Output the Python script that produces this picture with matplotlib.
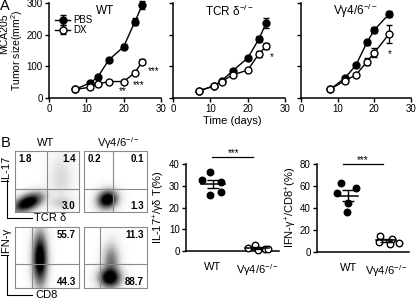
import numpy as np
import matplotlib
matplotlib.use("Agg")
import matplotlib.pyplot as plt
from matplotlib.lines import Line2D

plt.rcParams['font.family'] = ['Liberation Sans', 'DejaVu Sans']
plt.rcParams['mathtext.fontset'] = 'custom'
plt.rcParams['mathtext.rm'] = 'Liberation Sans'
plt.rcParams['mathtext.it'] = 'Liberation Sans:italic'
plt.rcParams['axes.linewidth'] = 1.1

# --- panel A: tumour growth curves ---
days_a = [7, 11, 13, 16, 20, 23, 25]
wt_pbs = [27, 48, 65, 120, 162, 241, 294]
wt_pbs_err = [3, 4, 5, 6, 7, 12, 12]
wt_dx = [27, 34, 44, 52, 52, 80, 115]
wt_dx_err = [3, 3, 3, 4, 4, 6, 7]

tcr_pbs = [23, 38, 54, 86, 126, 186, 238]
tcr_pbs_err = [3, 4, 5, 6, 7, 10, 16]
tcr_dx = [23, 38, 52, 73, 88, 139, 164]
tcr_dx_err = [3, 3, 4, 5, 6, 8, 9]

days_v = [8, 12, 15, 18, 20, 24]
vg_pbs = [28, 63, 104, 176, 215, 265]
vg_pbs_err = [3, 5, 6, 8, 9, 10]
vg_dx = [28, 55, 73, 115, 143, 202]
vg_dx_err = [3, 5, 7, 12, 14, 28]

# --- panel B: flow quadrant percentages ---
il17_quads = [["1.8", "1.4", "3.0"], ["0.2", "0.1", "1.3"]]
ifng_quads = [["55.7", "44.3"], ["11.3", "88.7"]]

# --- panel B: summary dot plots ---
groups = ["WT", "V\u03b34/6$^{-/-}$"]
il17_wt = [32.6, 36.2, 31.6, 25.7, 27.3]
il17_wt_off = [-0.23, -0.05, 0.18, -0.05, 0.18]
il17_ko = [2.8, 1.5, 0.8, 0.5, 1.0]
il17_ko_off = [-0.05, -0.2, 0.18, 0.02, 0.25]
ifng_wt = [63, 58, 54, 45, 36]
ifng_wt_off = [-0.2, 0.2, -0.3, 0.0, -0.03]
ifng_ko = [15, 12, 8.5, 9.5, 7.5]
ifng_ko_off = [-0.15, 0.15, 0.35, -0.2, 0.1]

W, H = 416, 302
fig = plt.figure(figsize=(W / 100, H / 100), dpi=100)


def box(x0, y0, x1, y1):
    return [x0 / W, 1 - y1 / H, (x1 - x0) / W, (y1 - y0) / H]


def ftext(x, y, s, **kw):
    kw.setdefault('ha', 'center')
    kw.setdefault('va', 'center')
    fig.text(x / W, 1 - y / H, s, **kw)


def growth(ax, days, pbs, pbs_e, dx, dx_e, title):
    ax.errorbar(days, pbs, yerr=pbs_e, color='black', marker='o', ms=5,
                lw=1, capsize=2.5, elinewidth=0.9, clip_on=False, zorder=3)
    ax.errorbar(days, dx, yerr=dx_e, color='black', marker='o', ms=5,
                mfc='white', mew=1, lw=1, capsize=2.5, elinewidth=0.9,
                clip_on=False, zorder=4)
    ax.set_xlim(0, 30)
    ax.set_ylim(0, 300)
    ax.set_xticks([0, 10, 20, 30])
    ax.set_yticks([0, 100, 200, 300])
    ax.spines[['top', 'right']].set_visible(False)
    ax.tick_params(labelsize=7, length=3, width=1, pad=1.5)
    ax.text(0.5, 0.915, title, transform=ax.transAxes, ha='center',
            va='center', fontsize=8.5)


ax1 = fig.add_axes(box(49, 3, 161, 98))
growth(ax1, days_a, wt_pbs, wt_pbs_err, wt_dx, wt_dx_err, "WT")
ax1.legend(["PBS", "DX"], loc='upper left', bbox_to_anchor=(0.0, 0.93),
           frameon=False, fontsize=7, handlelength=1.6, handletextpad=0.3,
           labelspacing=-0.05, borderaxespad=0.2)
ax1.text(19.8, 22, "**", ha='center', va='center', fontsize=7)
ax1.text(24.1, 41, "***", ha='center', va='center', fontsize=7)
ax1.text(27.9, 85, "***", ha='center', va='center', fontsize=7)

ax2 = fig.add_axes(box(173, 3, 285, 98))
growth(ax2, days_a, tcr_pbs, tcr_pbs_err, tcr_dx, tcr_dx_err,
       "TCR \u03b4$^{-/-}$")
ax2.set_yticklabels([])
ax2.text(26.5, 128, "*", ha='center', va='center', fontsize=7)

ax3 = fig.add_axes(box(301, 3, 411, 98))
growth(ax3, days_v, vg_pbs, vg_pbs_err, vg_dx, vg_dx_err,
       "V\u03b34/6$^{-/-}$")
ax3.set_yticklabels([])
ax3.text(24.2, 140, "*", ha='center', va='center', fontsize=7)

ftext(0, 6, "A", fontsize=10.5, ha='left')
ftext(4.5, 34, "MCA205", fontsize=7.5, rotation=90)
ftext(17, 50, "Tumor size(mm$^{2}$)", fontsize=7.5, rotation=90)
ftext(232, 121, "Time (days)", fontsize=8)

# --- flow panels (density drawn from cluster centre/spread estimates) ---
# (cx, cy, sx, sy, angle, weight)
clusters = {
    'tl': [(0.2, 0.15, 0.13, 0.065, 25, 1.0), (0.72, 0.55, 0.1, 0.2, 0, 0.03),
           (0.72, 0.15, 0.1, 0.06, 0, 0.05)],
    'tr': [(0.37, 0.2, 0.085, 0.075, 30, 1.0)],
    'bl': [(0.39, 0.48, 0.06, 0.22, 0, 1.0)],
    'br': [(0.41, 0.17, 0.09, 0.085, 0, 1.0), (0.43, 0.42, 0.07, 0.16, 0, 0.25)],
}


def flow(ax, comps, vx, hy, texts):
    g = np.linspace(0, 1, 200)
    X, Y = np.meshgrid(g, g)
    Z = np.zeros_like(X)
    for cx, cy, sx, sy, ang, w in comps:
        a = np.deg2rad(ang)
        u = (X - cx) * np.cos(a) + (Y - cy) * np.sin(a)
        v = -(X - cx) * np.sin(a) + (Y - cy) * np.cos(a)
        Z += w * np.exp(-0.5 * ((u / sx) ** 2 + (v / sy) ** 2))
    ax.imshow(Z ** 0.45, extent=[0, 1, 0, 1], origin='lower', cmap='Greys',
              vmin=0, vmax=0.85, interpolation='bilinear', aspect='auto')
    ax.axvline(vx, color='#8a8a8a', lw=0.8)
    ax.axhline(hy, color='#8a8a8a', lw=0.8)
    for s in ax.spines.values():
        s.set_color('#8a8a8a')
        s.set_linewidth(0.8)
    ax.set_xticks([])
    ax.set_yticks([])
    for (tx, ty, s, ha) in texts:
        ax.text(tx, ty, s, transform=ax.transAxes, ha=ha, va='center',
                fontsize=7, fontweight='bold')


flow(fig.add_axes(box(15, 151, 79, 212)), clusters['tl'], 0.5, 0.38,
     [(0.05, 0.87, il17_quads[0][0], 'left'), (0.95, 0.87, il17_quads[0][1], 'right'),
      (0.95, 0.1, il17_quads[0][2], 'right')])
flow(fig.add_axes(box(84, 151, 147, 212)), clusters['tr'], 0.46, 0.38,
     [(0.05, 0.87, il17_quads[1][0], 'left'), (0.95, 0.87, il17_quads[1][1], 'right'),
      (0.95, 0.1, il17_quads[1][2], 'right')])
flow(fig.add_axes(box(15, 227, 79, 288)), clusters['bl'], 0.27, 0.4,
     [(0.95, 0.87, ifng_quads[0][0], 'right'), (0.95, 0.1, ifng_quads[0][1], 'right')])
flow(fig.add_axes(box(84, 227, 147, 288)), clusters['br'], 0.25, 0.4,
     [(0.95, 0.87, ifng_quads[1][0], 'right'), (0.95, 0.1, ifng_quads[1][1], 'right')])

ftext(1, 143, "B", fontsize=10.5, ha='left')
ftext(46, 143, "WT", fontsize=8)
ftext(118, 143, "V\u03b34/6$^{-/-}$", fontsize=8)

ftext(6, 168, "IL-17", fontsize=8, rotation=90)
fig.add_artist(Line2D([7 / W, 7 / W, 32 / W], [1 - 180 / H, 1 - 218 / H, 1 - 218 / H],
                      color='black', lw=0.8))
ftext(34, 218, "TCR \u03b4", fontsize=8, ha='left')
ftext(6, 241, "IFN-\u03b3", fontsize=8, rotation=90)
fig.add_artist(Line2D([7 / W, 7 / W, 32 / W], [1 - 256 / H, 1 - 295 / H, 1 - 295 / H],
                      color='black', lw=0.8))
ftext(35, 295, "CD8", fontsize=8, ha='left')


# --- summary dot plots ---
def dots(ax, wt, wt_off, ko, ko_off, ymax, step):
    ax.scatter(np.array(wt_off), wt, s=22, color='black', zorder=3, clip_on=False)
    ax.scatter(1 + np.array(ko_off), ko, s=22, facecolor='white',
               edgecolor='black', lw=1, zorder=3, clip_on=False)
    for pos, vals in [(0, wt), (1, ko)]:
        m = np.mean(vals)
        se = np.std(vals, ddof=1) / np.sqrt(len(vals))
        ax.plot([pos - 0.27, pos + 0.27], [m, m], color='black', lw=1.1, zorder=4)
        ax.errorbar(pos, m, yerr=se, color='black', capsize=4, lw=1,
                    capthick=1, zorder=4)
    ax.set_ylim(0, ymax)
    ax.set_yticks(np.arange(0, ymax + 1, step))
    ax.set_xticks([0, 1])
    ax.set_xticklabels(groups)
    ax.spines[['top', 'right']].set_visible(False)
    ax.tick_params(axis='y', labelsize=7, length=3, width=1, pad=1.5)
    ax.tick_params(axis='x', labelsize=8, length=0, pad=8)


axs1 = fig.add_axes(box(186, 164, 279, 251))
dots(axs1, il17_wt, il17_wt_off, il17_ko, il17_ko_off, 40, 10)
axs1.set_xlim(-0.6, 1.5)
ftext(159, 207, "IL-17$^{+}$/\u03b3\u03b4 T(%)", fontsize=8, rotation=90)
fig.add_artist(Line2D([212 / W, 253 / W], [1 - 157 / H] * 2, color='black', lw=0.9))
ftext(234, 153, "***", fontsize=7)

axs2 = fig.add_axes(box(317, 164, 409, 252))
dots(axs2, ifng_wt, ifng_wt_off, ifng_ko, ifng_ko_off, 80, 20)
axs2.set_xlim(-0.82, 1.6)
ftext(291, 207, "IFN-\u03b3$^{+}$/CD8$^{+}$(%)", fontsize=8, rotation=90)
fig.add_artist(Line2D([343 / W, 383 / W], [1 - 164 / H] * 2, color='black', lw=0.9))
ftext(363, 160, "***", fontsize=7)

fig.savefig("out.png", dpi=100)
